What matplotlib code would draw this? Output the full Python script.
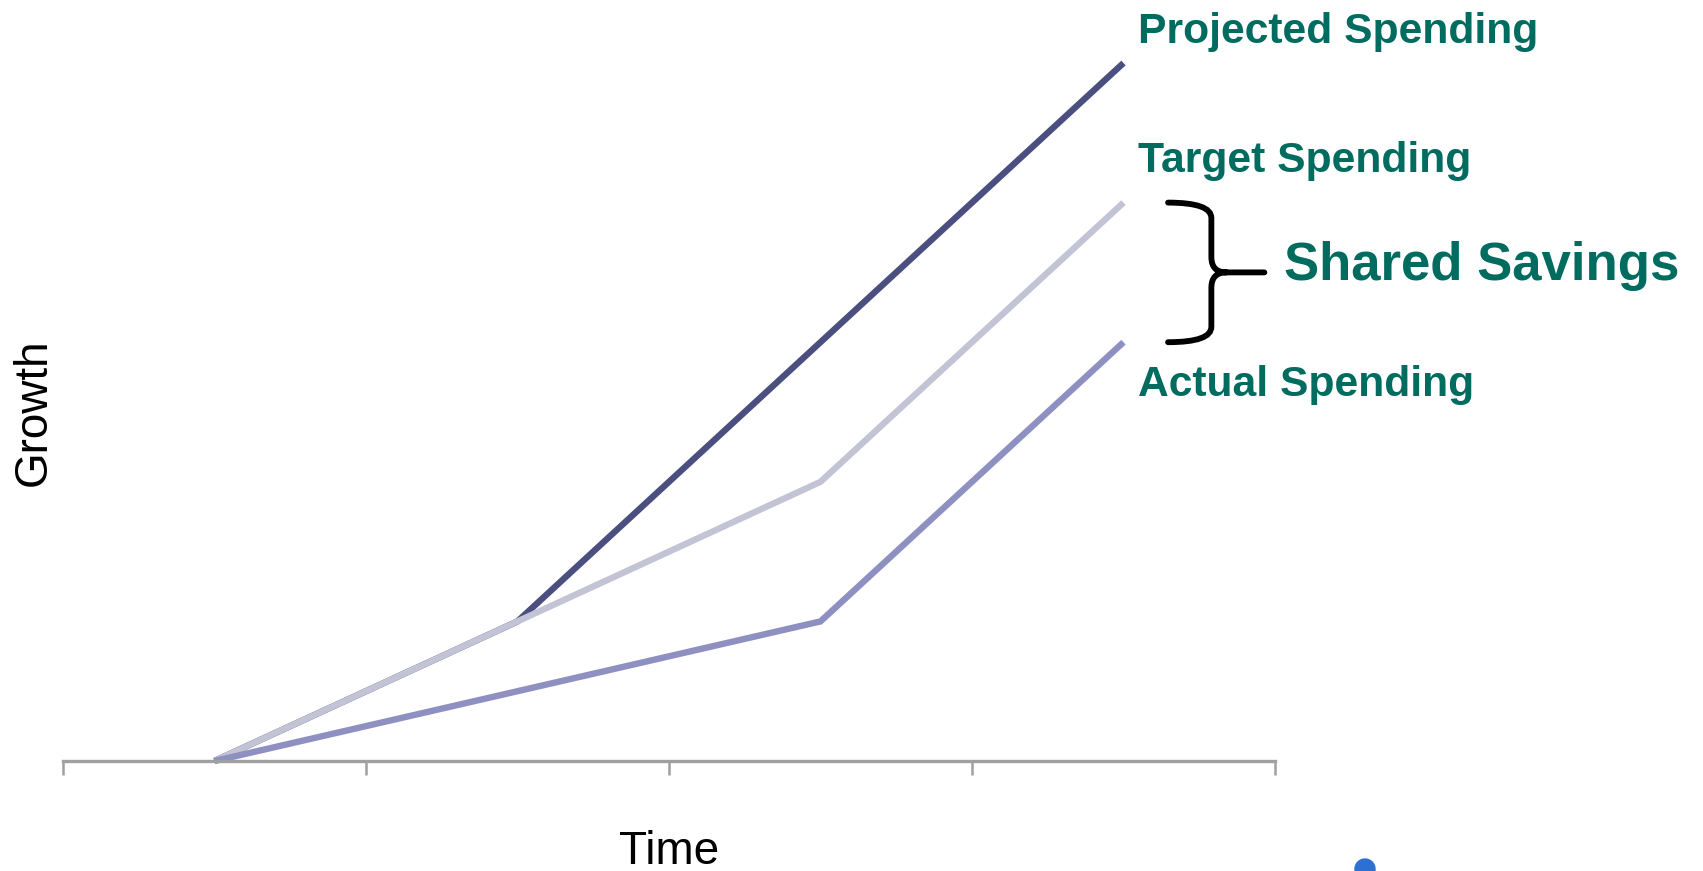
import matplotlib.pyplot as plt
import numpy as np
from matplotlib.path import Path
from matplotlib.patches import PathPatch, Ellipse

plt.rcParams['font.family'] = ['Liberation Sans', 'DejaVu Sans']

# four time periods, plotted at the category centres
periods = np.arange(4) + 0.5
projected = [0, 1, 3, 5]
target = [0, 1, 2, 4]
actual = [0, 0.5, 1, 3]

series_names = ['Projected Spending', 'Target Spending', 'Actual Spending']
series_colors = ['#4b4f80', '#c3c3d6', '#8d90c0']
teal = '#006b5f'
grey = '#a0a0a0'

W, H = 1703, 871
fig = plt.figure(figsize=(W / 100, H / 100), dpi=100)
ax = fig.add_axes([63 / W, 110 / H, 1212 / W, 698 / H])

for vals, col in zip([projected, target, actual], series_colors):
    ax.plot(periods, vals, color=col, lw=4.6, solid_capstyle='butt',
            solid_joinstyle='miter', clip_on=False)

ax.set_xlim(0, 4)
ax.set_ylim(0, 5)
ax.set_xticks(range(5))
ax.set_xticklabels([])
ax.set_yticks([])
for s in ['top', 'right', 'left']:
    ax.spines[s].set_visible(False)
ax.spines['bottom'].set_color(grey)
ax.spines['bottom'].set_linewidth(2.4)
ax.tick_params(axis='x', direction='out', length=10, width=1.8, color=grey)

ax.set_xlabel('Time', fontsize=33, va='baseline')
ax.xaxis.set_label_coords(0.5, -0.148)
ax.set_ylabel('Growth', fontsize=33, va='center')
ax.yaxis.set_label_coords(-0.024, 0.5)

# series labels next to the line ends
offsets = [(14, 20), (14, 31), (14, -54)]
for name, vals, (dx, dy) in zip(series_names, [projected, target, actual], offsets):
    ax.annotate(name, (periods[-1], vals[-1]), xytext=(dx, dy),
                textcoords='offset pixels', color=teal, fontsize=30.7,
                fontweight='bold', ha='left', va='baseline', annotation_clip=False)

# brace between target and actual end values
ytop, ybot = target[-1], actual[-1]
ymid = (ytop + ybot) / 2
xa, xs, xt = 3.647, 3.79, 3.965
rx, ry = 0.05, 0.11
verts = [
    (xa, ytop), (xs, ytop), (xs, ytop - ry),
    (xs, ymid + ry),
    (xs, ymid), (xs + rx, ymid),
    (xt, ymid),
    (xs + rx, ymid),
    (xs, ymid), (xs, ymid - ry),
    (xs, ybot + ry),
    (xs, ybot), (xa, ybot),
]
codes = [Path.MOVETO, Path.CURVE3, Path.CURVE3,
         Path.LINETO,
         Path.CURVE3, Path.CURVE3,
         Path.LINETO,
         Path.MOVETO,
         Path.CURVE3, Path.CURVE3,
         Path.LINETO,
         Path.CURVE3, Path.CURVE3]
ax.add_patch(PathPatch(Path(verts, codes), fill=False, lw=4.2, color='black',
                       capstyle='round', clip_on=False))
ax.annotate('Shared Savings', (xt, ymid), xytext=(20, -8),
            textcoords='offset pixels', color=teal, fontsize=38,
            fontweight='bold', ha='left', va='baseline', annotation_clip=False)

# stray blue dot at the bottom edge
fig.add_artist(Ellipse((1365 / W, 2 / H), 20 / W, 20 / H, color='#2d6fd2',
                       transform=fig.transFigure))

fig.savefig('out.png', dpi=100)
